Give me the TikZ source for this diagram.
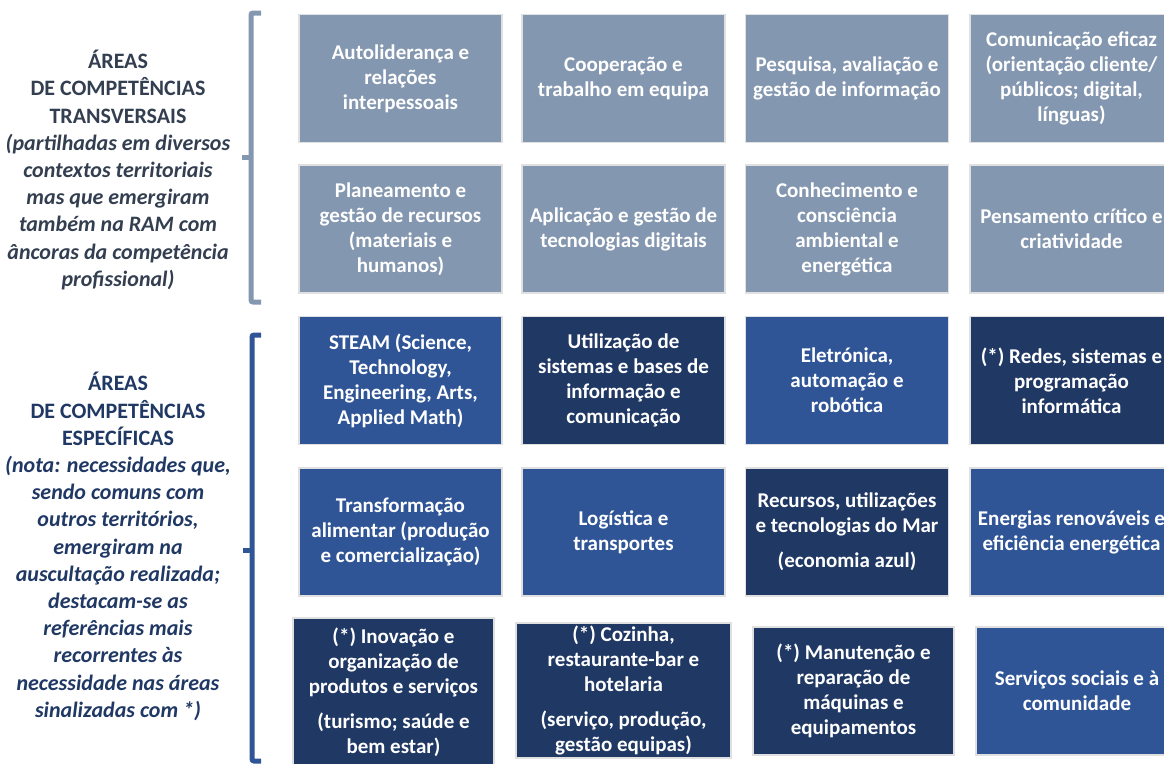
\documentclass[tikz,border=0pt]{standalone}
\usepackage{fontspec}
\setmainfont{Carlito}
\definecolor{greyblue}{RGB}{132,151,176}
\definecolor{midblue}{RGB}{47,85,151}
\definecolor{navyb}{RGB}{32,56,100}
\definecolor{boxedge}{RGB}{224,224,224}
\definecolor{slate}{RGB}{51,63,80}
\newcommand{\itl}[1]{\textit{#1}}
\begin{document}
\begin{tikzpicture}[x=1pt,y=-1pt,
  box/.style={draw=boxedge, line width=1.5pt, text=white, font=\fontsize{21}{25}\selectfont\bfseries, align=center, minimum width=203pt, minimum height=128pt, inner sep=0pt},
  tbox/.style={box, fill=greyblue},
  mbox/.style={box, fill=midblue},
  nbox/.style={box, fill=navyb},
  lbl/.style={align=center, font=\fontsize{22}{27.2}\selectfont\bfseries, inner sep=0pt},
  brk/.style={line width=5pt, rounded corners=2pt}
]
\useasboundingbox (0,0) rectangle (1164,763);
\clip (0,0) rectangle (1164,763);

% transversal
\node[tbox] (t1) at (400.5,78.5) {Autoliderança e\\relações\\interpessoais};
\node[tbox] (t2) at (623.5,78.5) {Cooperação e\\trabalho em equipa};
\node[tbox] (t3) at (847,78.5) {Pesquisa, avaliação e\\gestão de informação};
\node[tbox] (t4) at (1071.5,78.5) {Comunicação eficaz\\(orientação cliente/\\públicos; digital,\\línguas)};
\node[tbox] (t5) at (400.5,229) {Planeamento e\\gestão de recursos\\(materiais e\\humanos)};
\node[tbox] (t6) at (623.5,229) {Aplicação e gestão de\\tecnologias digitais};
\node[tbox] (t7) at (847,229) {Conhecimento e\\consciência\\ambiental e\\energética};
\node[tbox] (t8) at (1071.5,229) {Pensamento crítico e\\criatividade};

% specific
\node[mbox] (s1) at (400.5,380.5) {STEAM (Science,\\Technology,\\Engineering, Arts,\\Applied Math)};
\node[nbox] (s2) at (623.5,380.5) {Utilização de\\sistemas e bases de\\informação e\\comunicação};
\node[mbox] (s3) at (847,380.5) {Eletrónica,\\automação e\\robótica};
\node[nbox] (s4) at (1071.5,380.5) {(*) Redes, sistemas e\\programação\\informática};
\node[mbox] (s5) at (400.5,532) {Transformação\\alimentar (produção\\e comercialização)};
\node[mbox] (s6) at (623.5,532) {Logística e\\transportes};
\node[nbox] (s7) at (847,532) {Recursos, utilizações\\e tecnologias do Mar\\[10pt](economia azul)};
\node[mbox] (s8) at (1071.5,532) {Energias renováveis e\\eficiência energética};
\node[nbox, minimum width=201pt, minimum height=149pt] (s9) at (393.5,692.5) {(*) Inovação e\\organização de\\produtos e serviços\\[10pt](turismo; saúde e\\bem estar)};
\node[nbox, minimum width=215pt, minimum height=135pt] (s10) at (623.5,690.5) {(*) Cozinha,\\restaurante-bar e\\hotelaria\\[10pt](serviço, produção,\\gestão equipas)};
\node[nbox, minimum width=201pt] (s11) at (853.5,691) {(*) Manutenção e\\reparação de\\máquinas e\\equipamentos};
\node[mbox, minimum width=202pt] (s12) at (1077,691) {Serviços sociais e à\\comunidade};

% labels
\node[lbl, text=slate] (lt) at (118,170) {ÁREAS\\DE COMPETÊNCIAS\\TRANSVERSAIS\\\itl{(partilhadas em diversos}\\\itl{contextos territoriais}\\\itl{mas que emergiram}\\\itl{também na RAM com}\\\itl{âncoras da competência}\\\itl{profissional)}};
\node[lbl, text=navyb] (lb) at (118,546.5) {ÁREAS\\DE COMPETÊNCIAS\\ESPECÍFICAS\\\itl{(nota: necessidades que,}\\\itl{sendo comuns com}\\\itl{outros territórios,}\\\itl{emergiram na}\\\itl{auscultação realizada;}\\\itl{destacam-se as}\\\itl{referências mais}\\\itl{recorrentes às}\\\itl{necessidade nas áreas}\\\itl{sinalizadas com *)}};

% brackets
\draw[brk, draw=greyblue] (261,13) -- (251,13) -- (251,302) -- (261,302);
\draw[line width=5pt, draw=greyblue] (242,157) -- (251,157);
\draw[brk, draw=midblue] (261,335) -- (252,335) -- (252,761) -- (261,761);
\draw[line width=5pt, draw=midblue] (243,550) -- (252,550);
\end{tikzpicture}
\end{document}
